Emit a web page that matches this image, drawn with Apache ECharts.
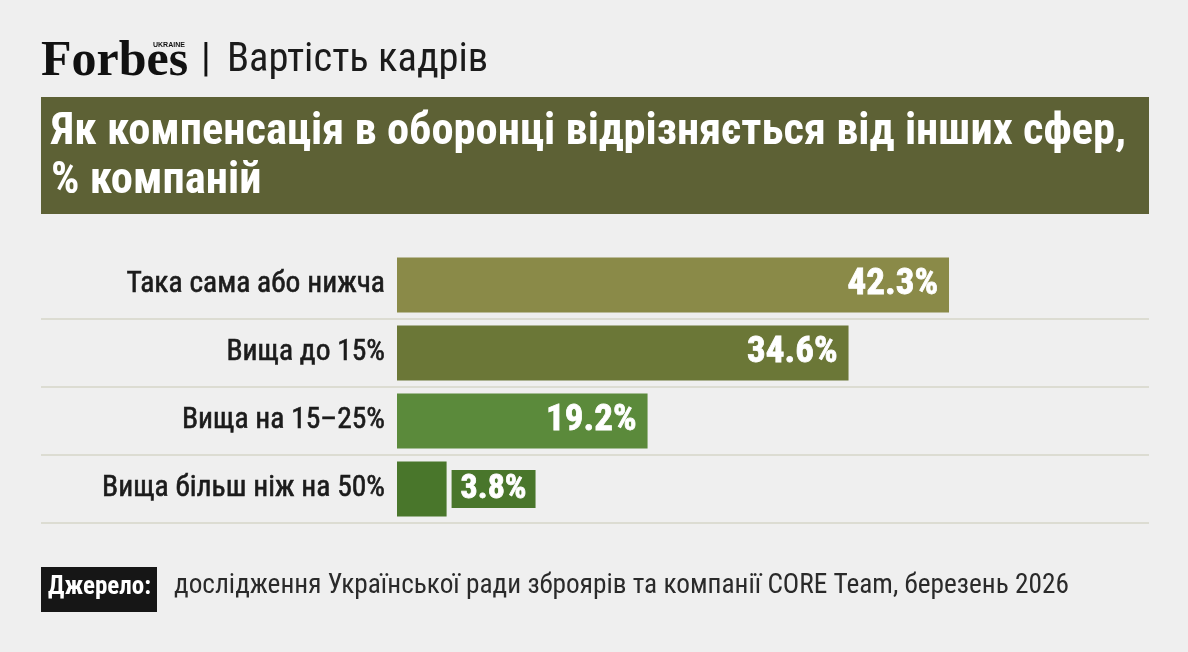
<!DOCTYPE html>
<html>
<head>
<meta charset="utf-8">
<script src="https://cdn.jsdelivr.net/npm/echarts@6/dist/echarts.min.js"></script>
<style>
  html, body { margin: 0; padding: 0; background: #efefef; }
  #chart { width: 1188px; height: 652px; }
</style>
</head>
<body>
<div id="chart"></div>
<script>
var categories = ['Така сама або нижча', 'Вища до 15%', 'Вища на 15–25%', 'Вища більш ніж на 50%'];
var values = [42.3, 34.6, 19.2, 3.8];
var barColors = ['#8a8a48', '#6b7737', '#5b8a3b', '#49762b'];

var narrow = "'Liberation Sans Narrow', 'Roboto Condensed', 'DejaVu Sans Condensed', sans-serif";

var myChart = echarts.init(document.getElementById('chart'));

var barData = values.map(function (v, i) {
  var item = { value: v, itemStyle: { color: barColors[i] } };
  // short bar: label goes outside, on its own coloured box
  if (v < 10) {
    item.label = {
      position: 'right',
      distance: 5,
      backgroundColor: barColors[i],
      padding: [3, 9, 1, 9],
      fontSize: 34
    };
  }
  return item;
});

var option = {
  backgroundColor: '#efefef',
  animation: false,
  grid: [
    // bars
    { left: 397, top: 251, width: 652.5, height: 272 },
    // full-width row separators
    { left: 41, top: 251, width: 1108, height: 272 }
  ],
  xAxis: [
    { gridIndex: 0, type: 'value', min: 0, max: 50, show: false },
    { gridIndex: 1, type: 'value', min: 0, max: 1, show: false }
  ],
  yAxis: [
    {
      gridIndex: 0,
      type: 'category',
      data: categories,
      inverse: true,
      axisLine: { show: false },
      axisTick: { show: false },
      splitLine: { show: false },
      axisLabel: {
        margin: 12,
        color: '#1b1b1b',
        fontFamily: narrow,
        fontSize: 29.5,
        textBorderColor: '#1b1b1b',
        textBorderWidth: 0.6
      }
    },
    {
      gridIndex: 1,
      type: 'category',
      data: categories,
      inverse: true,
      axisLine: { show: false },
      axisTick: { show: false },
      axisLabel: { show: false },
      splitLine: {
        show: true,
        // no line above the first row
        interval: function (index) { return index > 0; },
        lineStyle: { color: '#dcdcd2', width: 2 }
      }
    }
  ],
  series: [
    {
      type: 'bar',
      xAxisIndex: 0,
      yAxisIndex: 0,
      data: barData,
      barWidth: 55,
      silent: true,
      label: {
        show: true,
        position: 'insideRight',
        distance: 11,
        formatter: '{c}%',
        color: '#ffffff',
        fontFamily: narrow,
        fontWeight: 'bold',
        fontSize: 37,
        textBorderColor: '#ffffff',
        textBorderWidth: 0.8
      }
    }
  ],
  graphic: [
    // header
    {
      type: 'text', left: 41, top: 37,
      style: { text: 'Forbes', font: "bold 50px 'Liberation Serif', 'DejaVu Serif', serif", fill: '#111' }
    },
    {
      type: 'text', left: 153, top: 42,
      style: { text: 'UKRAINE', font: "bold 7px 'Liberation Sans', sans-serif", fill: '#111' }
    },
    {
      type: 'text', left: 201, top: 41,
      style: { text: '|', font: "40px " + narrow, fill: '#111' }
    },
    {
      type: 'text', left: 227, top: 40,
      style: { text: 'Вартість кадрів', font: "40.5px " + narrow, fill: '#1b1b1b' }
    },
    // title box
    {
      type: 'rect', shape: { x: 41, y: 97, width: 1108, height: 117 },
      style: { fill: '#5d6135' }
    },
    {
      type: 'text', left: 51, top: 108,
      style: {
        text: 'Як компенсація в оборонці відрізняється від інших сфер,\n% компаній',
        font: "bold 44.5px " + narrow, fill: '#ffffff', lineHeight: 49
      }
    },
    // source
    {
      type: 'rect', shape: { x: 41, y: 567, width: 116, height: 45 },
      style: { fill: '#161616' }
    },
    {
      type: 'text', left: 48, top: 575,
      style: { text: 'Джерело:', font: "bold 25px " + narrow, fill: '#ffffff' }
    },
    {
      type: 'text', left: 174, top: 573,
      style: {
        text: 'дослідження Української ради зброярів та компанії CORE Team, березень 2026',
        font: "27.3px " + narrow, fill: '#2a2a2a'
      }
    }
  ]
};

myChart.setOption(option);
</script>
</body>
</html>
